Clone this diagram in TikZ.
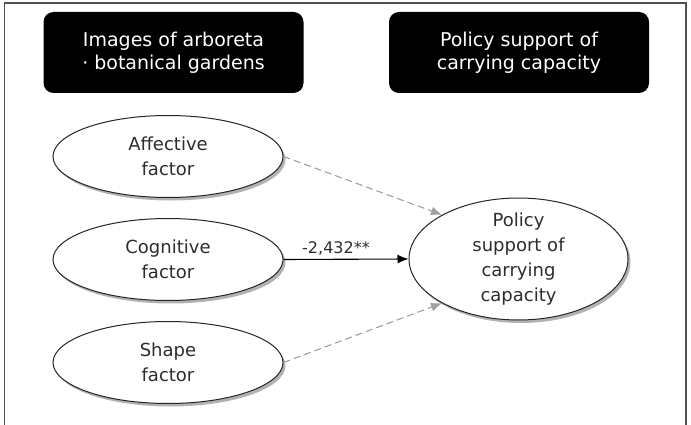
\documentclass[tikz,border=0pt]{standalone}
\usepackage{fontspec}
\setmainfont{DejaVu Sans}
\usetikzlibrary{arrows.meta, positioning, shapes.geometric, shadows}
\definecolor{txtgray}{RGB}{45,45,45}
\definecolor{dashgray}{RGB}{160,160,160}
\definecolor{framegray}{RGB}{80,80,80}

\begin{document}
\begin{tikzpicture}[
  x=1pt, y=-1pt,
  node distance = 20pt and 14pt,
  hdr/.style = {
    rectangle, rounded corners=10pt, fill=black, text=white,
    minimum width=260pt, minimum height=81pt,
    font=\fontsize{19}{23}\selectfont, align=center
  },
  fac/.style = {
    ellipse, draw=black!85, fill=white, text=txtgray, line width=1pt,
    minimum width=230pt, minimum height=82pt,
    font=\fontsize{18}{25}\selectfont, align=center,
    drop shadow={shadow xshift=2.5pt, shadow yshift=-3pt, opacity=0.3, fill=black}
  },
  arr/.style = {-{Latex[length=11pt, width=9pt]}, line width=1.1pt},
  darr/.style = {arr, draw=dashgray, dash pattern=on 7pt off 4pt}
]
\useasboundingbox (0,0) rectangle (691,425);
% outer frame, open at the bottom
\draw[framegray, line width=1.4pt] (4.5,425) |- (686,3) -- (686,425);

\node[hdr] (himg) at (173.5,52.5) {Images of arboreta\\· botanical gardens};
\node[hdr] (hpol) at (519,52.5)   {Policy support of\\carrying capacity};

\node[fac] (aff) at (168,156.5) {Affective\\factor};
\node[fac, below=20pt of aff] (cog) {Cognitive\\factor};
\node[fac, below=20pt of cog] (shp) {Shape\\factor};
\node[fac, minimum width=219pt, minimum height=122pt, inner ysep=-5pt]
  (pol) at (518.5,259) {Policy\\support of\\carrying\\capacity};

\draw[darr] (aff.east) -- (pol.150);
\draw[arr] (cog.east) -- node[above, pos=0.42, text=txtgray,
  font=\fontsize{16}{16}\selectfont] {-2,432**} (pol.west);
\draw[darr] (shp.east) -- (pol.210);
\end{tikzpicture}
\end{document}
